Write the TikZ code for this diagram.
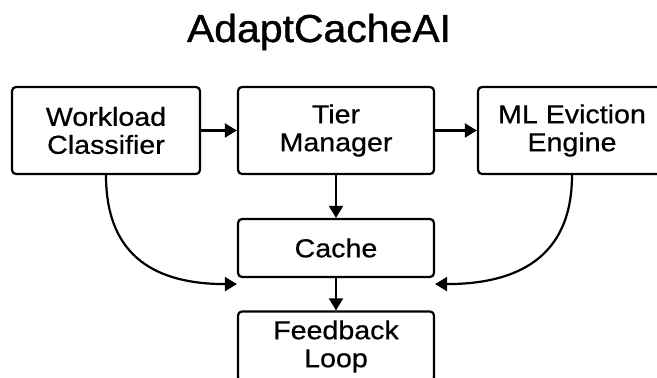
\documentclass[tikz,border=0pt]{standalone}
\usepackage{fontspec}
\setmainfont{Liberation Sans}
\newfontfamily\boxfont[FakeStretch=1.1,FakeBold=0.6]{Liberation Sans}
\newfontfamily\titlefont[FakeStretch=1.05,FakeBold=1.0]{Liberation Sans}
\usetikzlibrary{arrows.meta}
\begin{document}
\begin{tikzpicture}[x=1pt,y=1pt,
  blk/.style={draw=black, line width=2.2pt, rounded corners=4pt, fill=white,
    inner sep=0pt, align=center, font=\boxfont\fontsize{26}{28}\selectfont},
  conn/.style={draw=black, line width=2.2pt, -{Triangle[length=12pt,width=14pt]}}
]
\useasboundingbox (0,0) rectangle (657,378);
\clip (0,0) rectangle (657,378);
\fill[white] (0,0) rectangle (657,378);

\node[anchor=base, font=\titlefont\fontsize{39}{41}\selectfont] (title) at (319,336) {AdaptCacheAI};

\node[blk, minimum width=188pt, minimum height=87pt] (wc) at (106,247.5) {Workload\\Classifier};
\node[blk, minimum width=196pt, minimum height=87pt] (tm) at (336,247.5) {Tier\\Manager};
\node[blk, minimum width=188pt, minimum height=87pt] (ml) at (572,247.5) {ML Eviction\\Engine};
\node[blk, minimum width=196pt, minimum height=58pt] (cache) at (336,130) {Cache};
\node[blk, minimum width=196pt, minimum height=70pt] (fb) at (336,31.5) {Feedback\\Loop};

\coordinate (cl) at ([yshift=-6pt]cache.south west);
\coordinate (cr) at ([yshift=-6pt]cache.south east);

\draw[conn] (wc.east) -- (tm.west);
\draw[conn] (tm.east) -- (ml.west);
\draw[conn] (tm.south) -- (cache.north);
\draw[conn] (cache.south) -- (fb.north);
\draw[conn] (wc.south) to[out=-90,in=180,out distance=84pt,in distance=78pt] (cl);
\draw[conn] (ml.south) to[out=-90,in=0,out distance=84pt,in distance=80pt] (cr);
\end{tikzpicture}
\end{document}
